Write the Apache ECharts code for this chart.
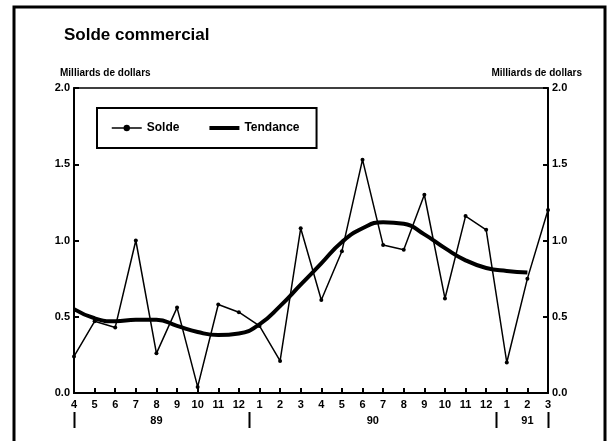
<!DOCTYPE html>
<html>
<head>
<meta charset="utf-8">
<script src="https://cdn.jsdelivr.net/npm/echarts@6/dist/echarts.min.js"></script>
<style>
  html, body { margin: 0; padding: 0; background: #fff; }
  #chart { width: 612px; height: 441px; }
</style>
</head>
<body>
<div id="chart"></div>
<script>
// mois d'avril 1989 a mars 1991
var months = ['4', '5', '6', '7', '8', '9', '10', '11', '12',
              '1', '2', '3', '4', '5', '6', '7', '8', '9', '10', '11', '12',
              '1', '2', '3'];
var solde = [0.24, 0.47, 0.43, 1.00, 0.26, 0.56, 0.04, 0.58, 0.53,
             0.44, 0.21, 1.08, 0.61, 0.93, 1.53, 0.97, 0.94, 1.30, 0.62, 1.16, 1.07,
             0.20, 0.75, 1.20];
var tendance = [0.55, 0.49, 0.47, 0.48, 0.48, 0.44, 0.40, 0.38, 0.39,
                0.45, 0.57, 0.71, 0.85, 0.99, 1.08, 1.12, 1.11, 1.04, 0.95, 0.87, 0.82,
                0.80, 0.79, null];
// annees: libelle + position (index mois, peut etre entre deux mois)
var years = ['89', '90', '91'];
var yearPos = [4, 14.5, 22];
// separateurs d'annee
var sepPos = [0, 8.5, 20.5, 23];
var yTicks = [0, 0.5, 1, 1.5, 2];

var font = '"Liberation Sans", Arial, sans-serif';
var chart = echarts.init(document.getElementById('chart'));

var yAxisBase = function (pos) {
    return {
        type: 'value',
        position: pos,
        min: yTicks[0],
        max: yTicks[yTicks.length - 1],
        interval: 0.5,
        splitLine: { show: false },
        axisLine: { show: true, lineStyle: { color: '#000', width: 2 } },
        axisTick: { show: true, inside: true, length: 5, lineStyle: { color: '#000', width: 2 } },
        axisLabel: {
            color: '#000', fontFamily: font, fontWeight: 'bold', fontSize: 11, margin: 4,
            formatter: function (v) { return v.toFixed(1); }
        }
    };
};

var option = {
    animation: false,
    backgroundColor: '#fff',
    title: {
        text: 'Solde commercial',
        left: 59, top: 22,
        textStyle: { color: '#000', fontFamily: font, fontWeight: 'bold', fontSize: 17 }
    },
    legend: {
        left: 97, top: 108,
        padding: [14, 17, 14, 14],
        itemGap: 30,
        itemWidth: 30, itemHeight: 8,
        borderColor: '#000', borderWidth: 2,
        textStyle: { color: '#000', fontFamily: font, fontWeight: 'bold', fontSize: 12 },
        data: [
            { name: 'Solde', itemStyle: { color: '#000' }, lineStyle: { width: 1.5 } },
            { name: 'Tendance', icon: 'path://M0,0 H30 V4 H0 Z',
              itemStyle: { color: '#000' }, lineStyle: { width: 4, color: '#000' } }
        ]
    },
    grid: {
        left: 74, right: 64, top: 88, bottom: 48,
        show: true, borderColor: '#000', borderWidth: 1.5
    },
    xAxis: {
        type: 'category',
        data: months,
        boundaryGap: false,
        axisLine: { lineStyle: { color: '#000', width: 2 } },
        axisTick: { inside: true, length: 5, lineStyle: { color: '#000', width: 2 } },
        axisLabel: {
            color: '#000', fontFamily: font, fontWeight: 'bold', fontSize: 11,
            margin: 6, interval: 0
        }
    },
    yAxis: [yAxisBase('left'), yAxisBase('right')],
    series: [
        {
            name: 'Solde',
            type: 'line',
            data: solde,
            symbol: 'circle',
            symbolSize: 4,
            itemStyle: { color: '#000' },
            lineStyle: { color: '#000', width: 1.5 },
            z: 3
        },
        {
            name: 'Tendance',
            type: 'line',
            data: tendance,
            smooth: true,
            symbol: 'none',
            itemStyle: { color: '#000' },
            lineStyle: { color: '#000', width: 4 },
            z: 2
        }
    ]
};
chart.setOption(option);

var xAt = function (p) {
    var i = Math.floor(p);
    var a = chart.convertToPixel({ xAxisIndex: 0 }, i);
    if (p === i) return a;
    var b = chart.convertToPixel({ xAxisIndex: 0 }, i + 1);
    return a + (b - a) * (p - i);
};
var graphics = [
    // cadre exterieur
    { type: 'rect', shape: { x: 14, y: 7, width: 591, height: 450 },
      style: { fill: null, stroke: '#000', lineWidth: 3 }, silent: true },
    { type: 'text', left: 60, top: 68,
      style: { text: 'Milliards de dollars', fill: '#000', font: 'bold 10px ' + font } },
    { type: 'text', right: 30, top: 68,
      style: { text: 'Milliards de dollars', fill: '#000', font: 'bold 10px ' + font } }
];
years.forEach(function (y, k) {
    graphics.push({
        type: 'text', x: xAt(yearPos[k]), y: 421,
        style: { text: y, fill: '#000', font: 'bold 11px ' + font, align: 'center', verticalAlign: 'middle' }
    });
});
sepPos.forEach(function (p) {
    var x = Math.round(xAt(p)) + 0.5;
    graphics.push({
        type: 'line', shape: { x1: x, y1: 412, x2: x, y2: 428 },
        style: { stroke: '#000', lineWidth: 2 }, silent: true
    });
});
chart.setOption({ graphic: graphics });
</script>
</body>
</html>
